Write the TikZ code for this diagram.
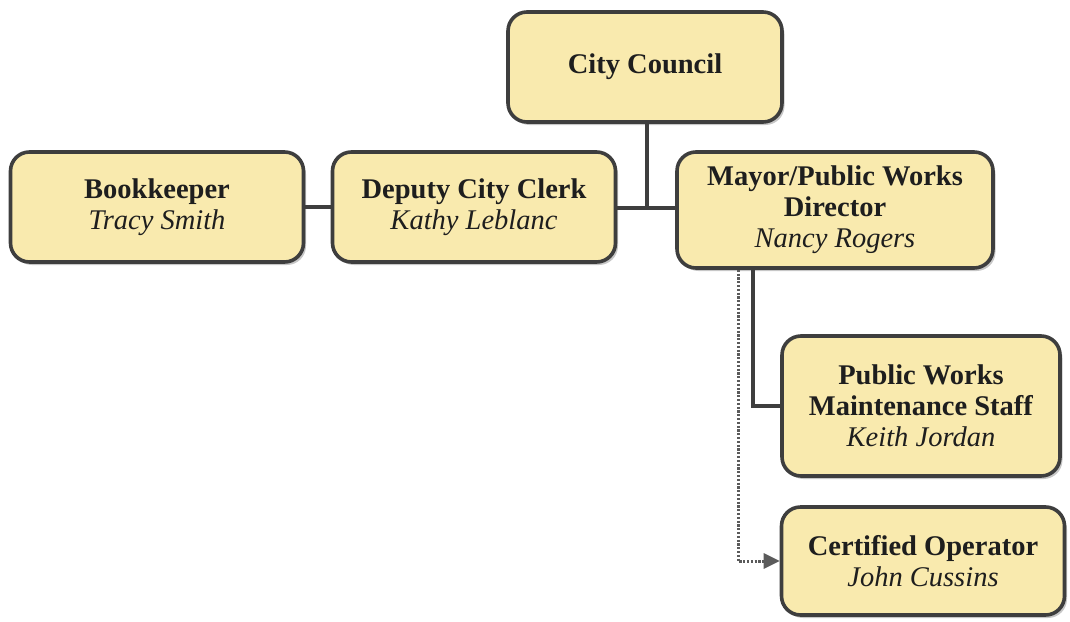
\documentclass[tikz,border=0pt]{standalone}
\usepackage{fontspec}
\setmainfont{Liberation Serif}
\usetikzlibrary{shadows,arrows.meta}
\definecolor{boxfill}{HTML}{F9EAAE}
\definecolor{boxline}{HTML}{3E3E3E}
\definecolor{txt}{HTML}{1E1E1E}
\begin{document}
\begin{tikzpicture}[x=1pt,y=-1pt,
  orgbox/.style={draw=boxline, line width=3.6pt, fill=boxfill, rounded corners=19pt,
    align=center, text=txt, inner sep=0pt,
    font=\fontsize{28.5}{31}\selectfont,
    drop shadow={shadow xshift=2.5pt, shadow yshift=-3pt, fill=black!22, opacity=1}},
  conn/.style={draw=boxline, line width=3.4pt},
  dotconn/.style={draw=boxline!85, line width=3pt, dash pattern=on 2.2pt off 1.6pt,
    -{Triangle[length=16pt,width=15pt]}}]
\useasboundingbox (0,0) rectangle (1070,621);
\node[orgbox, minimum width=274pt, minimum height=110pt] (cc) at (645,67) {\textbf{City Council}};
\node[orgbox, minimum width=293pt, minimum height=110pt] (bk) at (157,207) {\textbf{Bookkeeper}\\\textit{Tracy Smith}};
\node[orgbox, minimum width=283pt, minimum height=110pt] (dc) at (474,207) {\textbf{Deputy City Clerk}\\\textit{Kathy Leblanc}};
\node[orgbox, minimum width=316pt, minimum height=116pt] (my) at (835,210) {\textbf{Mayor/Public Works}\\\textbf{Director}\\\textit{Nancy Rogers}};
\node[orgbox, minimum width=278pt, minimum height=140pt] (pw) at (921,406) {\textbf{Public Works}\\\textbf{Maintenance Staff}\\\textit{Keith Jordan}};
\node[orgbox, minimum width=283pt, minimum height=108pt] (co) at (923,561) {\textbf{Certified Operator}\\\textit{John Cussins}};
\coordinate (j) at (647,208);
\coordinate (m1) at (753,0);
\coordinate (m2) at (738,0);
\draw[conn] (cc.south -| j) -- (j);
\draw[conn] (dc.east |- j) -- (my.west |- j);
\draw[conn] (bk.east) -- (dc.west);
\draw[conn] (my.south -| m1) |- (pw.west);
\draw[dotconn] (my.south -| m2) |- (co.west);
\end{tikzpicture}
\end{document}
